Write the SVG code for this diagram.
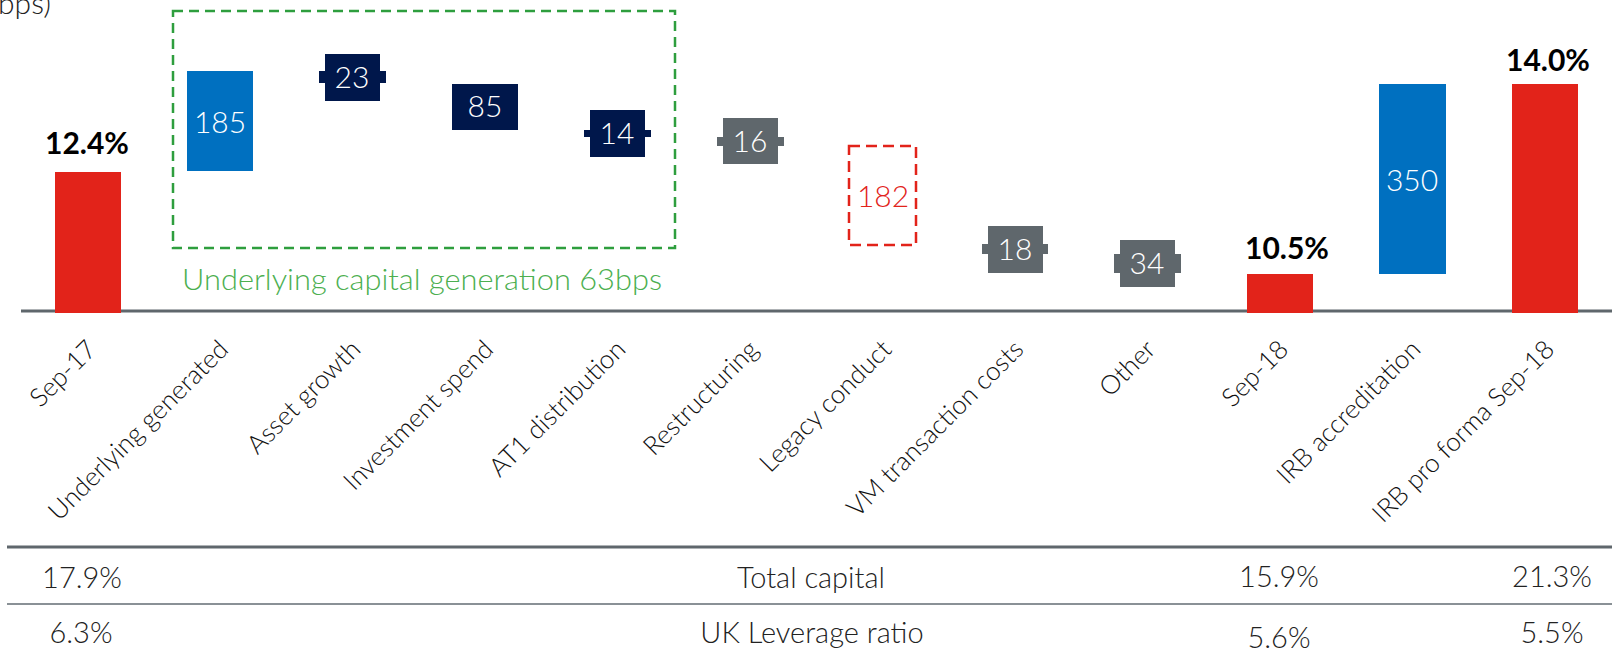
<svg xmlns="http://www.w3.org/2000/svg" width="1612" height="661" viewBox="0 0 1612 661">
<style>
.lt{font-family:Lato,"Open Sans","Liberation Sans",sans-serif;font-weight:300}
.bd{font-family:Lato,"Open Sans","Liberation Sans",sans-serif;font-weight:700;font-size:30px;fill:#000;text-anchor:middle}
.val{font-size:30px;fill:#fff;text-anchor:middle}
.cat{font-size:26px;fill:#111;text-anchor:end}
.tbl{font-size:29px;fill:#222;text-anchor:middle}
.red{fill:#e2231a}
.blue{fill:#0070c0}
.navy{fill:#00174b}
.gray{fill:#5f676c}
</style>
<rect width="1612" height="661" fill="#fff"/>
<text class="lt" x="51" y="14" font-size="30" fill="#222" text-anchor="end">bps)</text>

<g id="connectors">
<line x1="21" y1="311" x2="1612" y2="311" stroke="#5f676c" stroke-width="3"/>
<line x1="7" y1="547" x2="1612" y2="547" stroke="#5f676c" stroke-width="3"/>
<line x1="7" y1="604" x2="1612" y2="604" stroke="#8a9196" stroke-width="2"/>
</g>

<g id="underlying-box">
<rect x="173" y="11" width="502" height="237" fill="none" stroke="#2e9e3e" stroke-width="2.5" stroke-dasharray="10 6"/>
<text class="lt" x="182" y="290" font-size="30" fill="#4caf50" textLength="480" lengthAdjust="spacingAndGlyphs">Underlying capital generation 63bps</text>
</g>

<g id="sep17">
<rect class="red" x="55" y="172" width="66" height="141"/>
<text class="bd" x="87" y="154">12.4%</text>
</g>
<g id="underlying-generated">
<rect class="blue" x="187" y="71" width="66" height="100"/>
<text class="lt val" x="220" y="133">185</text>
</g>
<g id="asset-growth">
<rect class="navy" x="325" y="54" width="55" height="47"/>
<rect class="navy" x="319" y="71" width="67" height="12"/>
<text class="lt val" x="352" y="88">23</text>
</g>
<g id="investment-spend">
<rect class="navy" x="452" y="84" width="66" height="46"/>
<text class="lt val" x="485" y="117">85</text>
</g>
<g id="at1-distribution">
<rect class="navy" x="590" y="110" width="55" height="47"/>
<rect class="navy" x="584" y="130" width="67" height="7"/>
<text class="lt val" x="617" y="144">14</text>
</g>
<g id="restructuring">
<rect class="gray" x="723" y="118" width="55" height="46"/>
<rect class="gray" x="717" y="137" width="67" height="9"/>
<text class="lt val" x="750" y="152">16</text>
</g>
<g id="legacy-conduct">
<rect x="849" y="146" width="67" height="99" fill="none" stroke="#e2231a" stroke-width="2.5" stroke-dasharray="11 6"/>
<text class="lt" x="883" y="207" font-size="30" fill="#e2231a" text-anchor="middle">182</text>
</g>
<g id="vm-transaction-costs">
<rect class="gray" x="988" y="226" width="55" height="47"/>
<rect class="gray" x="982" y="244" width="66" height="10"/>
<text class="lt val" x="1015" y="260">18</text>
</g>
<g id="other">
<rect class="gray" x="1120" y="240" width="55" height="47"/>
<rect class="gray" x="1114" y="254" width="67" height="19"/>
<text class="lt val" x="1147" y="274">34</text>
</g>
<g id="sep18">
<rect class="red" x="1247" y="274" width="66" height="39"/>
<text class="bd" x="1287" y="259">10.5%</text>
</g>
<g id="irb-accreditation">
<rect class="blue" x="1379" y="84" width="67" height="190"/>
<text class="lt val" x="1412" y="191">350</text>
</g>
<g id="irb-pro-forma">
<rect class="red" x="1512" y="84" width="66" height="229"/>
<text class="bd" x="1548" y="71">14.0%</text>
</g>

<g id="categories">
<text class="lt cat" transform="translate(98,351) rotate(-45)">Sep-17</text>
<text class="lt cat" transform="translate(230,351) rotate(-45)">Underlying generated</text>
<text class="lt cat" transform="translate(362,351) rotate(-45)">Asset growth</text>
<text class="lt cat" transform="translate(495,351) rotate(-45)">Investment spend</text>
<text class="lt cat" transform="translate(627,351) rotate(-45)">AT1 distribution</text>
<text class="lt cat" transform="translate(760,351) rotate(-45)">Restructuring</text>
<text class="lt cat" transform="translate(893,351) rotate(-45)">Legacy conduct</text>
<text class="lt cat" transform="translate(1025,351) rotate(-45)">VM transaction costs</text>
<text class="lt cat" transform="translate(1157,351) rotate(-45)">Other</text>
<text class="lt cat" transform="translate(1290,351) rotate(-45)">Sep-18</text>
<text class="lt cat" transform="translate(1422,351) rotate(-45)">IRB accreditation</text>
<text class="lt cat" transform="translate(1556,351) rotate(-45)">IRB pro forma Sep-18</text>
</g>

<g id="table">
<text class="lt tbl" x="82" y="588">17.9%</text>
<text class="lt tbl" x="811" y="588">Total capital</text>
<text class="lt tbl" x="1279" y="587">15.9%</text>
<text class="lt tbl" x="1552" y="587">21.3%</text>
<text class="lt tbl" x="81" y="643">6.3%</text>
<text class="lt tbl" x="812" y="643">UK Leverage ratio</text>
<text class="lt tbl" x="1279" y="648">5.6%</text>
<text class="lt tbl" x="1552" y="643">5.5%</text>
</g>
</svg>
